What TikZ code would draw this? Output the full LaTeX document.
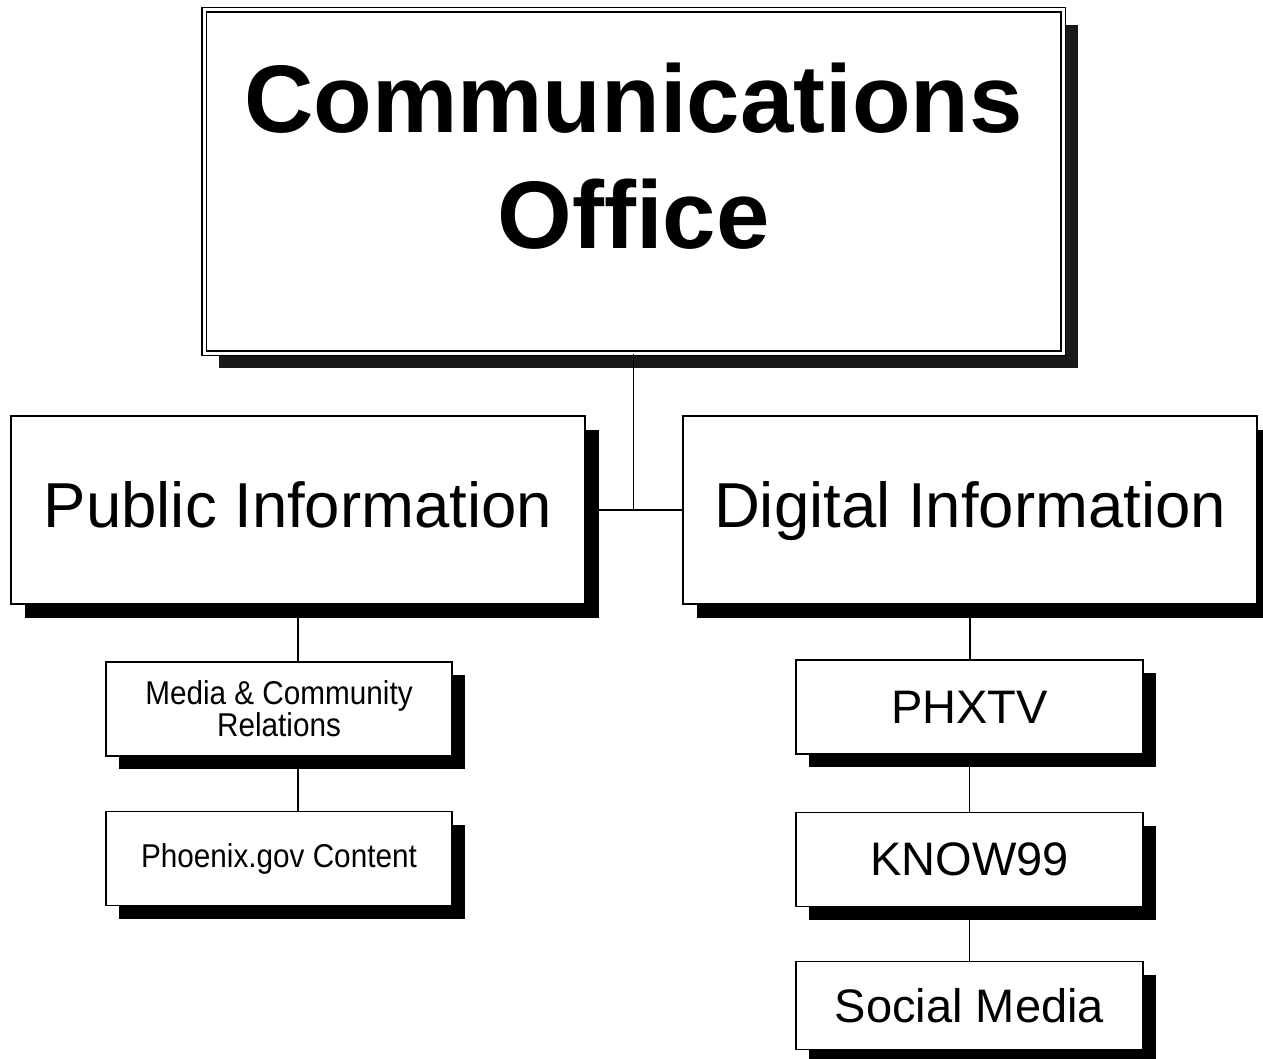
\documentclass[tikz,border=0pt]{standalone}
\usepackage{fontspec}
\setmainfont{Liberation Sans}
\newfontfamily\narrowfont[FakeStretch=0.9]{Liberation Sans}
\usetikzlibrary{shadows}

\begin{document}
\begin{tikzpicture}[x=1pt,y=-1pt,line width=1.8pt]
    \tikzstyle{box}=[rectangle,draw=black,fill=white,inner sep=0pt]
    \tikzstyle{head box}=[box,double,line width=1.8pt,double distance=3pt,
        minimum width=859pt,minimum height=343pt,align=center,text depth=51pt,
        drop shadow={shadow xshift=15pt,shadow yshift=-15pt,fill=black!90,opacity=1},
        font=\fontsize{96}{116}\selectfont\bfseries]
    \tikzstyle{section box}=[box,line width=2pt,minimum width=574pt,minimum height=188pt,
        text height=46pt,text depth=11pt,
        drop shadow={shadow xshift=14pt,shadow yshift=-14pt,fill=black,opacity=1},
        font=\fontsize{63.5}{76}\selectfont]
    \tikzstyle{unit}=[box,line width=1.5pt,minimum width=347pt,minimum height=94pt,
        drop shadow={shadow xshift=13pt,shadow yshift=-13pt,fill=black,opacity=1},
        font=\fontsize{47}{56}\selectfont]
    \tikzstyle{narrow unit}=[unit,minimum width=346pt,align=center,
        font=\narrowfont\fontsize{33}{26}\selectfont]

    \useasboundingbox (0,0) rectangle (1263,1059);

    % Draw the office and its two sections
    \node[head box] (CO) at (633.5,181.5) {Communications\\Office};
    \node[section box] (PI) at (298,510) {Public Information};
    \node[section box] (DI) at (970,510) {Digital Information};

    % Draw the public information units
    \node[narrow unit] (P-1) at (279,709) {Media \& Community\\Relations};
    \node[narrow unit] (P-2) at (279,858.5) {Phoenix.gov Content};

    % Draw the digital information units
    \foreach \name/\y/\h/\txt in {1/707/94/PHXTV,2/859.5/94/KNOW99,3/1005.5/88/Social Media}
        \node[unit,minimum height=\h pt] (D-\name) at (969.5,\y) {\txt};

    % Connect the office with both sections
    \draw (CO.south) -- (CO.south |- PI.east);
    \draw (PI.east) -- (DI.west);

    % Connect every section with its units
    \draw (PI.south) -- (PI.south |- P-1.north);
    \draw (PI.south |- P-1.south) -- (PI.south |- P-2.north);
    \draw (DI.south) -- (DI.south |- D-1.north);
    \foreach \source/\dest in {1/2,2/3}
        \draw (D-\source.south) -- (D-\dest.north);
\end{tikzpicture}
\end{document}
